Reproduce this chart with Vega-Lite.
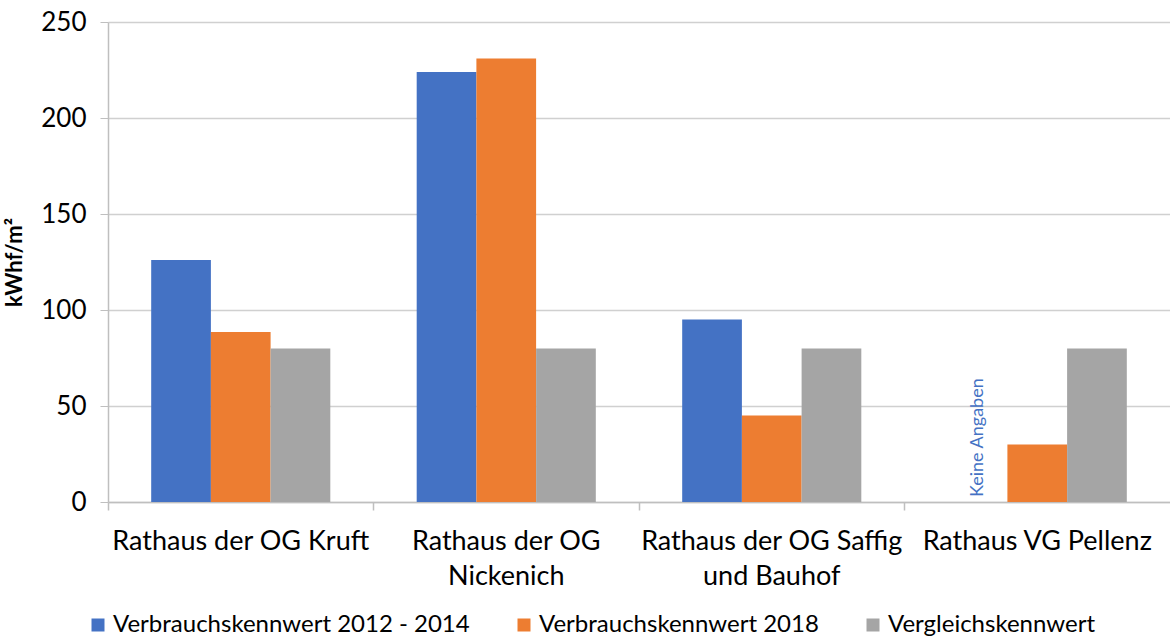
{
  "$schema": "https://vega.github.io/schema/vega-lite/v6.json",
  "width": 1062,
  "height": 480,
  "autosize": {"type": "none"},
  "padding": {"left": 108, "top": 22, "right": 0, "bottom": 135},
  "background": "white",
  "config": {
    "font": "Lato, sans-serif",
    "view": {"stroke": null}
  },
  "data": {
    "values": [
      {"Gebäude": "Rathaus der OG Kruft", "Reihe": "Verbrauchskennwert 2012 - 2014", "Wert": 126},
      {"Gebäude": "Rathaus der OG Kruft", "Reihe": "Verbrauchskennwert 2018", "Wert": 88.5},
      {"Gebäude": "Rathaus der OG Kruft", "Reihe": "Vergleichskennwert", "Wert": 80},
      {"Gebäude": "Rathaus der OG Nickenich", "Reihe": "Verbrauchskennwert 2012 - 2014", "Wert": 224},
      {"Gebäude": "Rathaus der OG Nickenich", "Reihe": "Verbrauchskennwert 2018", "Wert": 231},
      {"Gebäude": "Rathaus der OG Nickenich", "Reihe": "Vergleichskennwert", "Wert": 80},
      {"Gebäude": "Rathaus der OG Saffig und Bauhof", "Reihe": "Verbrauchskennwert 2012 - 2014", "Wert": 95},
      {"Gebäude": "Rathaus der OG Saffig und Bauhof", "Reihe": "Verbrauchskennwert 2018", "Wert": 45},
      {"Gebäude": "Rathaus der OG Saffig und Bauhof", "Reihe": "Vergleichskennwert", "Wert": 80},
      {"Gebäude": "Rathaus VG Pellenz", "Reihe": "Verbrauchskennwert 2012 - 2014", "Wert": null, "Hinweis": "Keine Angaben"},
      {"Gebäude": "Rathaus VG Pellenz", "Reihe": "Verbrauchskennwert 2018", "Wert": 30},
      {"Gebäude": "Rathaus VG Pellenz", "Reihe": "Vergleichskennwert", "Wert": 80}
    ]
  },
  "layer": [
    {
      "mark": {"type": "bar"},
      "encoding": {
        "x": {
          "field": "Gebäude",
          "type": "nominal",
          "sort": ["Rathaus der OG Kruft", "Rathaus der OG Nickenich", "Rathaus der OG Saffig und Bauhof", "Rathaus VG Pellenz"],
          "scale": {"paddingInner": 0, "paddingOuter": 0},
          "axis": {
            "title": null,
            "labelAngle": 0,
            "labelFontSize": 27,
            "labelColor": "#000000",
            "labelPadding": 26,
            "labelLineHeight": 35,
            "labelBaseline": "top",
            "labelLimit": 400,
            "ticks": false,
            "domain": true,
            "domainColor": "#BFBFBF",
            "domainWidth": 1.5,
            "grid": false,
            "labelExpr": "datum.value == 'Rathaus der OG Nickenich' ? ['Rathaus der OG', 'Nickenich'] : datum.value == 'Rathaus der OG Saffig und Bauhof' ? ['Rathaus der OG Saffig', 'und Bauhof'] : datum.value"
          }
        },
        "xOffset": {
          "field": "Reihe",
          "type": "nominal",
          "sort": ["Verbrauchskennwert 2012 - 2014", "Verbrauchskennwert 2018", "Vergleichskennwert"],
          "scale": {"paddingInner": 0, "paddingOuter": 0.7235}
        },
        "y": {
          "field": "Wert",
          "type": "quantitative",
          "scale": {"domain": [0, 250], "nice": false},
          "axis": {
            "title": "kWhf/m²",
            "titleFontSize": 22,
            "titleFontWeight": "bold",
            "titleColor": "#000000",
            "titlePadding": 14,
            "values": [0, 50, 100, 150, 200, 250],
            "labelFontSize": 26,
            "labelColor": "#000000",
            "labelPadding": 14,
            "tickSize": 8,
            "tickColor": "#BFBFBF",
            "domain": true,
            "domainColor": "#BFBFBF",
            "domainWidth": 1.5,
            "grid": true,
            "gridColor": "#D0D0D0",
            "gridWidth": 1.5
          }
        },
        "color": {
          "field": "Reihe",
          "type": "nominal",
          "scale": {
            "domain": ["Verbrauchskennwert 2012 - 2014", "Verbrauchskennwert 2018", "Vergleichskennwert"],
            "range": ["#4472C4", "#ED7D31", "#A5A5A5"]
          },
          "legend": {
            "title": null,
            "orient": "none",
            "direction": "horizontal",
            "legendX": -22,
            "legendY": 591,
            "symbolType": "square",
            "symbolSize": 169,
            "symbolStrokeWidth": 0,
            "labelFontSize": 24,
            "labelColor": "#000000",
            "labelLimit": 500,
            "columnPadding": 42,
            "labelOffset": 3
          }
        }
      }
    },
    {
      "transform": [{"filter": "datum.Hinweis != null"}],
      "mark": {"type": "text", "angle": 270, "align": "left", "baseline": "middle", "dx": 5, "fontSize": 18, "color": "#4472C4"},
      "encoding": {
        "x": {
          "field": "Gebäude",
          "type": "nominal",
          "sort": ["Rathaus der OG Kruft", "Rathaus der OG Nickenich", "Rathaus der OG Saffig und Bauhof", "Rathaus VG Pellenz"],
          "axis": {
            "title": null,
            "orient": "bottom",
            "bandPosition": 0,
            "labels": false,
            "ticks": true,
            "tickSize": 8,
            "tickColor": "#BFBFBF",
            "tickWidth": 1.5,
            "domain": false,
            "grid": false
          }
        },
        "xOffset": {
          "field": "Reihe",
          "type": "nominal",
          "sort": ["Verbrauchskennwert 2012 - 2014", "Verbrauchskennwert 2018", "Vergleichskennwert"]
        },
        "y": {"datum": 0, "type": "quantitative"},
        "text": {"field": "Hinweis"}
      }
    }
  ],
  "resolve": {"axis": {"x": "independent"}}
}
